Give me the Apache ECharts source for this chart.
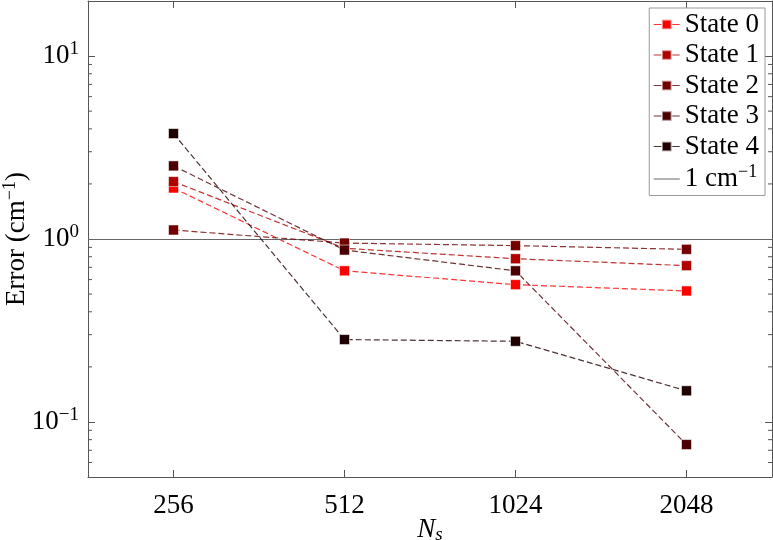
<!DOCTYPE html>
<html><head><meta charset="utf-8">
<script src="https://cdn.jsdelivr.net/npm/echarts@6/dist/echarts.min.js"></script>
<style>html,body{margin:0;padding:0;background:#fff}#c{width:773px;height:540px}</style>
</head><body><div id="c"></div>
<script>
const categories = ['256', '512', '1024', '2048'];
const state0 = [1.90, 0.67, 0.563, 0.52];
const state1 = [2.06, 0.89, 0.78, 0.715];
const state2 = [1.12, 0.95, 0.92, 0.878];
const state3 = [2.51, 0.87, 0.67, 0.0752];
const state4 = [3.77, 0.282, 0.276, 0.148];
const seriesNames = ['State 0', 'State 1', 'State 2', 'State 3', 'State 4'];
const seriesValues = [state0, state1, state2, state3, state4];
const seriesColors = ['#ff0000', '#b00000', '#720000', '#4a0000', '#1e0000'];
const refLineValue = 1;
const refName = '1 cm-1';
const minorTickValues = [0.06, 0.07, 0.08, 0.09, 0.2, 0.3, 0.4, 0.5, 0.6, 0.7, 0.8, 0.9, 2, 3, 4, 5, 6, 7, 8, 9];

const FONT = 'Liberation Serif';
const AX = '#555';

const chart = echarts.init(document.getElementById('c'));

const supRich = {
  b: { fontSize: 27, fontFamily: FONT, color: '#000' },
  s: { fontSize: 19, fontFamily: FONT, color: '#000', padding: [0, 0, 14, 0] }
};

const series = seriesNames.map((n, i) => ({
  name: n,
  type: 'line',
  data: seriesValues[i],
  symbol: 'rect',
  symbolSize: 10,
  z: 3 + i,
  lineStyle: { color: seriesColors[i], width: 1.2, type: [6, 3], opacity: 0.8 },
  itemStyle: { color: seriesColors[i], borderColor: 'rgba(255,255,255,0.55)', borderWidth: 1 },
  emphasis: { disabled: true },
  animation: false
}));

series.push({
  name: refName,
  type: 'line',
  data: [],
  symbol: 'none',
  lineStyle: { color: '#666', width: 1 },
  itemStyle: { color: '#666' },
  markLine: {
    silent: true,
    symbol: 'none',
    label: { show: false },
    lineStyle: { color: '#666', width: 1.2, type: 'solid' },
    data: [{ yAxis: refLineValue }]
  },
  z: 2,
  animation: false
});

series.push({
  name: 'minorTicks',
  type: 'custom',
  coordinateSystem: 'cartesian2d',
  xAxisIndex: 0,
  yAxisIndex: 0,
  silent: true,
  animation: false,
  data: minorTickValues.map(v => [0, v]),
  renderItem: function (params, api) {
    const y = api.coord([0, api.value(1)])[1];
    const cs = params.coordSys;
    return {
      type: 'group',
      children: [
        { type: 'line', shape: { x1: cs.x, y1: y, x2: cs.x + 4, y2: y }, style: { stroke: AX, lineWidth: 1 } },
        { type: 'line', shape: { x1: cs.x + cs.width - 4, y1: y, x2: cs.x + cs.width, y2: y }, style: { stroke: AX, lineWidth: 1 } }
      ]
    };
  }
});

const yLabelFmt = v => {
  const e = Math.round(Math.log10(v));
  return '{b|10}{s|' + (e < 0 ? '\u2212' + (-e) : e) + '}';
};

function yAxisCfg(pos, showLabel) {
  return {
    type: 'log',
    logBase: 10,
    min: 0.05,
    max: 20,
    position: pos,
    axisLine: { show: true, lineStyle: { color: AX, width: 1 } },
    axisTick: { show: true, inside: true, length: 7, lineStyle: { color: AX, width: 1 } },
    minorTick: { show: false },
    splitLine: { show: false },
    axisLabel: {
      show: showLabel, formatter: yLabelFmt, rich: supRich, margin: 9,
      showMinLabel: false, showMaxLabel: false
    }
  };
}

function xAxisCfg(pos, showLabel) {
  return {
    type: 'category',
    data: categories,
    boundaryGap: true,
    position: pos,
    axisLine: { show: true, lineStyle: { color: AX, width: 1 } },
    axisTick: { show: true, inside: true, alignWithLabel: true, length: 7, lineStyle: { color: AX, width: 1 } },
    splitLine: { show: false },
    axisLabel: { show: showLabel, fontSize: 27, fontFamily: FONT, color: '#000', margin: 15 }
  };
}

const xBottom = xAxisCfg('bottom', true);
xBottom.name = '{n|N}{sub|s}';
xBottom.nameLocation = 'middle';
xBottom.nameGap = 38;
xBottom.nameMoveOverlap = false;
xBottom.nameTextStyle = {
  rich: {
    n: { fontSize: 27, fontFamily: FONT, fontStyle: 'italic', color: '#000' },
    sub: { fontSize: 19, fontFamily: FONT, fontStyle: 'italic', color: '#000', padding: [10, 0, 0, 0] }
  }
};

const yLeft = yAxisCfg('left', true);
yLeft.name = '{t|Error (cm}{s|\u22121}{t|)}';
yLeft.nameLocation = 'middle';
yLeft.nameGap = 56;
yLeft.nameRotate = 90;
yLeft.nameMoveOverlap = false;
yLeft.nameTextStyle = {
  rich: {
    t: { fontSize: 27, fontFamily: FONT, color: '#000' },
    s: { fontSize: 18, fontFamily: FONT, color: '#000', padding: [0, 0, 13, 0] }
  }
};

chart.setOption({
  animation: false,
  backgroundColor: '#fff',
  grid: { left: 88, right: 1, top: 1, bottom: 63, containLabel: false, outerBoundsMode: 'none' },
  xAxis: [xBottom, xAxisCfg('top', false)],
  yAxis: [yLeft, yAxisCfg('right', false)],
  legend: {
    data: seriesNames.map(n => ({ name: n })).concat([{ name: refName, itemStyle: { opacity: 0 } }]),
    orient: 'vertical',
    right: 8,
    top: 8,
    backgroundColor: '#fff',
    borderColor: '#999',
    borderWidth: 1,
    borderRadius: 0,
    padding: [3, 6, 3, 4],
    itemWidth: 26,
    itemHeight: 12,
    itemGap: 3.5,
    selectedMode: false,
    lineStyle: { type: 'solid', width: 1 },
    formatter: name => name === refName ? '{t|1 cm}{s|\u22121}' : '{t|' + name + '}',
    textStyle: {
      fontSize: 27, fontFamily: FONT, color: '#000',
      rich: {
        t: { fontSize: 27, fontFamily: FONT, color: '#000' },
        s: { fontSize: 18, fontFamily: FONT, color: '#000', padding: [0, 0, 13, 0] }
      }
    }
  },
  series: series
});
</script>
</body></html>
